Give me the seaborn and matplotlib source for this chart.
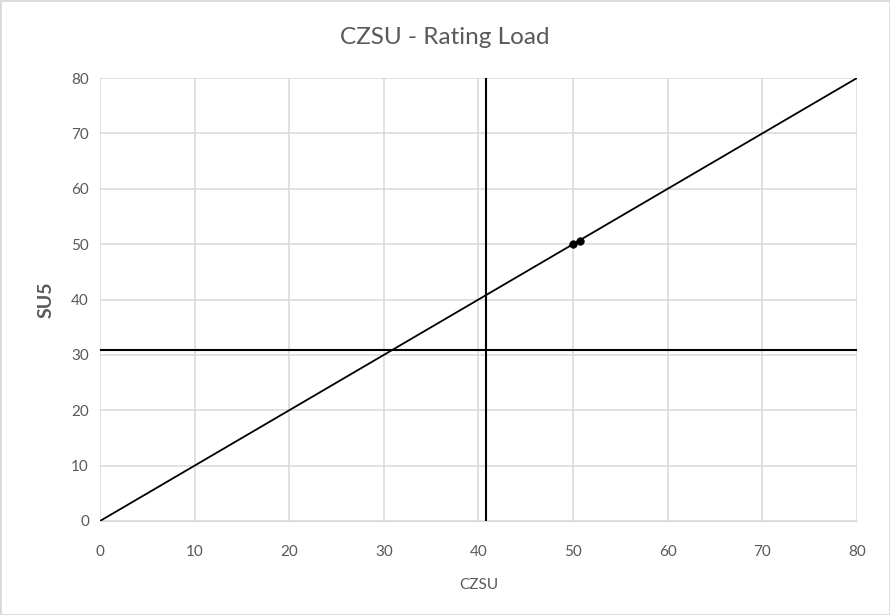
import seaborn as sns
import matplotlib.pyplot as plt
import pandas as pd

# data
diag_x = [0, 80]
diag_y = [0, 80]
points_x = [50.0, 50.7]
points_y = [50.0, 50.5]
vline_x = 40.75
hline_y = 30.95
ticks = [0, 10, 20, 30, 40, 50, 60, 70, 80]

sns.set_style("whitegrid", {"grid.color": "#d9d9d9", "axes.edgecolor": "#d9d9d9"})
plt.rcParams['font.family'] = ['Lato', 'DejaVu Sans']

fig = plt.figure(figsize=(8.9, 6.15), dpi=100)
ax = fig.add_axes([100 / 890, 1 - 521 / 615, 757 / 890, 443 / 615])

diag = pd.DataFrame({"x": diag_x, "y": diag_y})
pts = pd.DataFrame({"x": points_x, "y": points_y})

sns.lineplot(data=diag, x="x", y="y", color="black", linewidth=1.3, ax=ax)
sns.scatterplot(data=pts, x="x", y="y", color="black", s=30, edgecolor="black", ax=ax, zorder=4)
ax.axvline(vline_x, color="black", linewidth=1.5)
ax.axhline(hline_y, color="black", linewidth=1.5)

ax.set_xlim(0, 80)
ax.set_ylim(0, 80)
ax.set_xticks(ticks)
ax.set_yticks(ticks)
ax.grid(True, linewidth=1.1)
for s in ["left", "top", "right"]:
    ax.spines[s].set_visible(False)
ax.spines["bottom"].set_color("#d9d9d9")
ax.tick_params(colors="#595959", labelsize=11, length=0)
ax.tick_params(axis="x", pad=17)
ax.tick_params(axis="y", pad=8)

fig.text(0.5, 1 - 37 / 615, "CZSU - Rating Load", fontsize=17.5, color="#595959",
         ha="center", va="center")
ax.set_xlabel("CZSU", fontsize=11, color="#595959", labelpad=14)
ax.set_ylabel("SU5", fontsize=14, color="#595959", fontweight="bold", labelpad=12)

fig.patches.append(plt.Rectangle((0, 0), 1, 1, transform=fig.transFigure,
                                 fill=False, edgecolor="#d9d9d9", linewidth=2))

fig.savefig("out.png", dpi=100)
